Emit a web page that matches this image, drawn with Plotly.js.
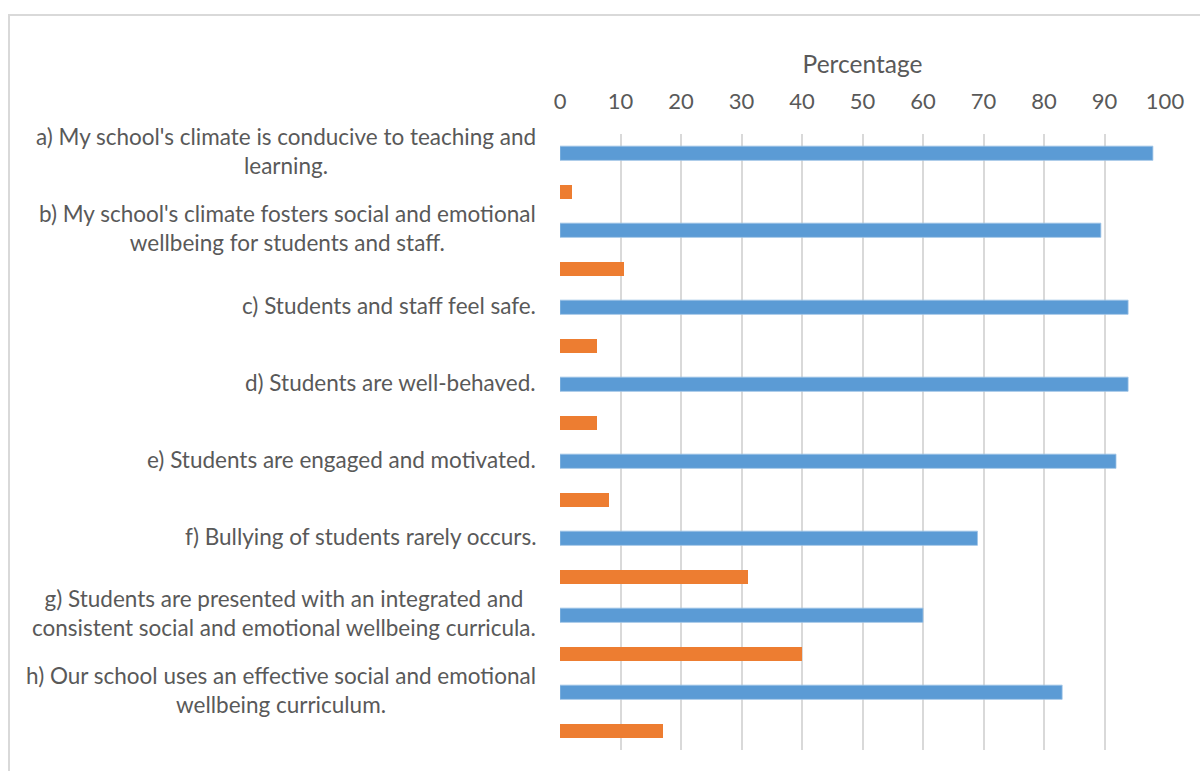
<!DOCTYPE html>
<html>
<head>
<meta charset="utf-8">
<script src="https://cdn.plot.ly/plotly-3.0.1.min.js"></script>
<style>
html,body{margin:0;padding:0;background:#fff;overflow:hidden;}
#frame{position:absolute;left:8px;top:14px;width:1300px;height:900px;border:2px solid #d9d9d9;pointer-events:none;z-index:5;}
#chart{position:absolute;left:0;top:0;width:1200px;height:771px;}
</style>
</head>
<body>
<div id="chart"></div>
<div id="frame"></div>
<script>
const categories = [
  "a) My school's climate is conducive to teaching and<br>learning.",
  "b) My school's climate fosters social and emotional<br>wellbeing for students and staff.",
  "c) Students and staff feel safe.",
  "d) Students are well-behaved.",
  "e) Students are engaged and motivated.",
  "f) Bullying of students rarely occurs.",
  "g) Students are presented with an integrated and<br>consistent social and emotional wellbeing curricula.",
  "h) Our school uses an effective social and emotional<br>wellbeing curriculum."
];
const blueValues = [98, 89.4, 93.9, 93.9, 91.9, 69, 60, 83];
const orangeValues = [2, 10.6, 6.1, 6.1, 8.1, 31, 40, 17];
const xTicks = [0,10,20,30,40,50,60,70,80,90,100];

const bluePos = categories.map((c,i)=>2*i);
const orangePos = categories.map((c,i)=>2*i+1);

const FONT = "Lato, 'Open Sans', sans-serif";
const TXT = "#595959";

const traces = [
  {type:'bar', orientation:'h', x: blueValues, y: bluePos, width:0.37,
   marker:{color:'#5b9bd5', line:{color:'#9dc3e6', width:0.8}}, hoverinfo:'x'},
  {type:'bar', orientation:'h', x: orangeValues, y: orangePos, width:0.37,
   marker:{color:'#ed7d31'}, hoverinfo:'x'}
];

const annotations = categories.map((c,i)=>({
  xref:'paper', yref:'y', x:0, y:bluePos[i], xanchor:'right', yanchor:'middle',
  xshift:-22, yshift:2, text:c, showarrow:false, align:'center',
  font:{family:FONT, size:22.5, color:TXT}
}));

const layout = {
  width:1200, height:771,
  margin:{l:560, r:35, t:134, b:21},
  paper_bgcolor:'#fff', plot_bgcolor:'#fff',
  showlegend:false,
  bargap:0,
  xaxis:{
    side:'top', range:[0,100], tickvals:xTicks, ticktext:xTicks.map(String),
    showgrid:true, gridcolor:'#d9d9d9', gridwidth:2,
    zeroline:false, showline:false, ticks:'', ticklabelstandoff:20,
    tickfont:{family:FONT, size:22, color:TXT},
    title:{text:'Percentage', font:{family:FONT, size:24.5, color:TXT}, standoff:6},
    fixedrange:true
  },
  yaxis:{
    range:[15.5,-0.5], showticklabels:false, showgrid:false, zeroline:false,
    showline:false, ticks:'', fixedrange:true
  },
  annotations: annotations
};

Plotly.newPlot('chart', traces, layout, {displayModeBar:false, staticPlot:true});
</script>
</body>
</html>
